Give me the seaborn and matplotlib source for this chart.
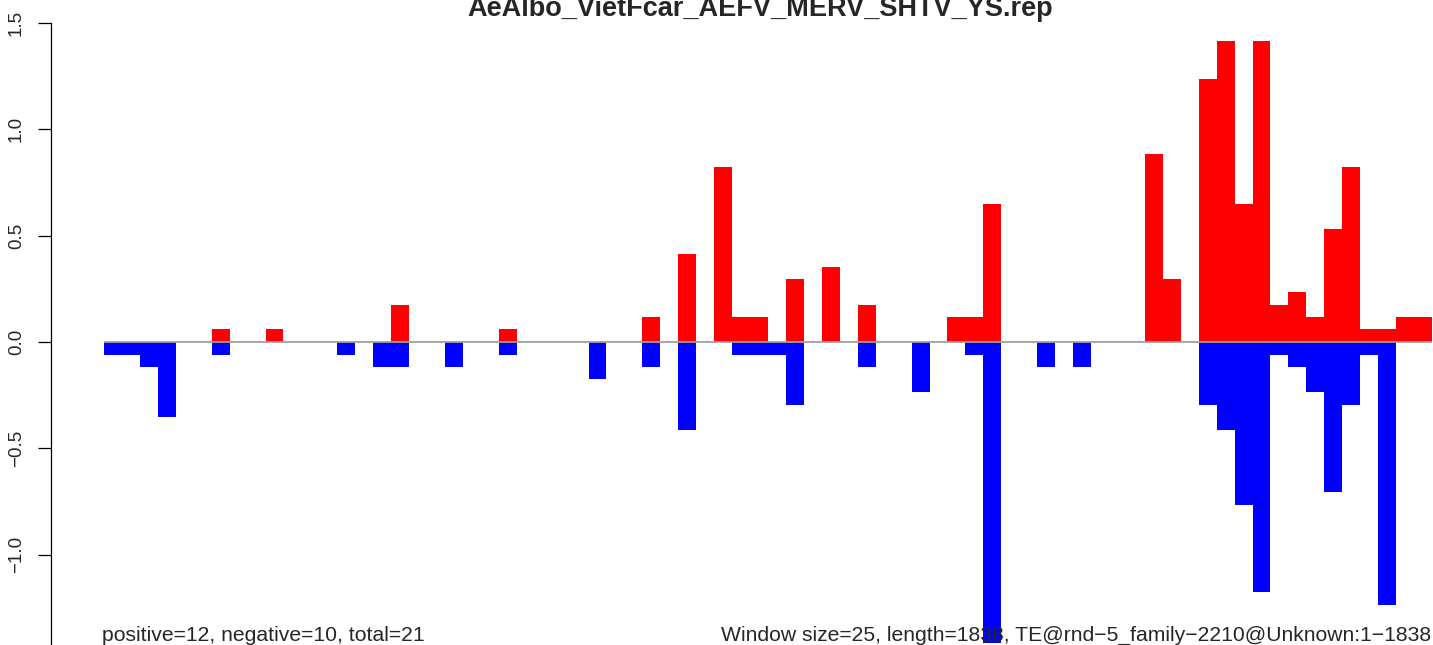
# Дзеркальна гістограма покриття (позитивні / негативні)
import pandas as pd
import matplotlib
matplotlib.use('Agg')
import matplotlib.pyplot as plt
import seaborn as sns

# Значення по вікнах (25 bp), 74 вікна
window = list(range(74))
positive = [0, 0, 0, 0, 0, 0, 0.059, 0, 0, 0.059,
            0, 0, 0, 0, 0, 0, 0.176, 0, 0, 0,
            0, 0, 0.059, 0, 0, 0, 0, 0, 0, 0,
            0.118, 0, 0.412, 0, 0.824, 0.118, 0.118, 0, 0.294, 0,
            0.353, 0, 0.176, 0, 0, 0, 0, 0.118, 0.118, 0.647,
            0, 0, 0, 0, 0, 0, 0, 0, 0.882, 0.294,
            0, 1.235, 1.412, 0.647, 1.412, 0.176, 0.235, 0.118, 0.529, 0.824,
            0.059, 0.059, 0.118, 0.118]
negative = [-0.059, -0.059, -0.118, -0.353, 0, 0, -0.059, 0, 0, 0,
            0, 0, 0, -0.059, 0, -0.118, -0.118, 0, 0, -0.118,
            0, 0, -0.059, 0, 0, 0, 0, -0.176, 0, 0,
            -0.118, 0, -0.412, 0, 0, -0.059, -0.059, -0.059, -0.294, 0,
            0, 0, -0.118, 0, 0, -0.235, 0, 0, -0.059, -1.412,
            0, 0, -0.118, 0, -0.118, 0, 0, 0, 0, 0,
            0, -0.294, -0.412, -0.765, -1.176, -0.059, -0.118, -0.235, -0.706, -0.294,
            -0.059, -1.235, 0, 0]
yticks = [-1.5, -1.0, -0.5, 0.0, 0.5, 1.0, 1.5]
ytick_labels = ['\u22121.5', '\u22121.0', '\u22120.5', '0.0', '0.5', '1.0', '1.5']

title = 'AeAlbo_VietFcar_AEFV_MERV_SHTV_YS.rep'
left_note = 'positive=12, negative=10, total=21'
right_note = 'Window size=25, length=1838, TE@rnd\u22125_family\u22122210@Unknown:1\u22121838'

df = pd.DataFrame({'window': window, 'positive': positive, 'negative': negative})

sns.set_style('white')
plt.rcParams['font.family'] = ['Liberation Sans', 'DejaVu Sans']

W, H = 1433, 645
fig = plt.figure(figsize=(W / 100, H / 100), dpi=100)

# позиції в пікселях -> частки фігури
px_left, px_right = 50.7, 1433
px_top, px_bottom = 0, 700
ax = fig.add_axes([px_left / W, (H - px_bottom) / H,
                   (px_right - px_left) / W, (px_bottom - px_top) / H])

sns.barplot(data=df, x='window', y='positive', color='#FF0000', width=1,
            linewidth=0, errorbar=None, saturation=1, ax=ax)
sns.barplot(data=df, x='window', y='negative', color='#0000FF', width=1,
            linewidth=0, errorbar=None, saturation=1, ax=ax)
ax.hlines(0, -0.5, 73.5, color='#a0a0a0', lw=1.3, zorder=5)

bw = 17.946
ax.set_xlim((px_left - 104) / bw - 0.5, (px_right - 104) / bw - 0.5)
scale = 212.9
ax.set_ylim(-(px_bottom - 342) / scale, 342 / scale)

for s in ['top', 'right', 'bottom']:
    ax.spines[s].set_visible(False)
ax.spines['left'].set_bounds(-1.5, 1.5)
ax.spines['left'].set_linewidth(0.9)
ax.spines['left'].set_color('black')
ax.set_xticks([])
ax.set_yticks(yticks)
ax.set_yticklabels(ytick_labels, rotation=90, va='center', fontsize=13.5)
ax.tick_params(axis='y', length=9.5, width=0.9, pad=9, left=True, color='black')
ax.set_xlabel('')
ax.set_ylabel('')

fig.text(760 / W, 1 - 16 / H, title, ha='center', va='baseline',
         fontsize=19.5, fontweight='bold')
fig.text(102 / W, 1 - 641 / H, left_note, ha='left', va='baseline', fontsize=15.25)
fig.text(1431 / W, 1 - 641 / H, right_note, ha='right', va='baseline', fontsize=15.25)

fig.savefig('out.png', dpi=100)
